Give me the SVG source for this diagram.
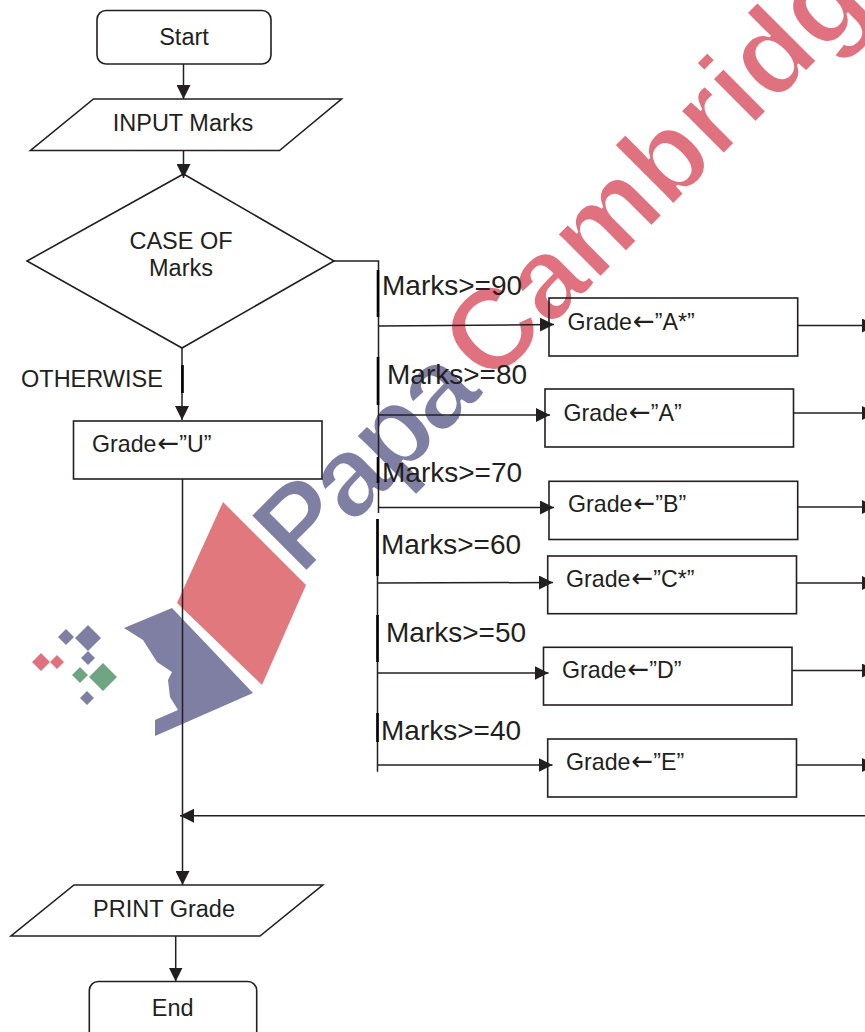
<svg xmlns="http://www.w3.org/2000/svg" width="865" height="1032" viewBox="0 0 865 1032">
<style>
.n{fill:#fff;stroke:#231f20;stroke-width:1.6}
.o{fill:none;stroke:#231f20;stroke-width:1.6}
.l{fill:none;stroke:#231f20;stroke-width:1.5}
.t{stroke:#000;stroke-width:2.6;fill:none}
text{font-family:"Liberation Sans",Arial,sans-serif;fill:#231f20;font-size:23.500px}
.g{font-size:23.200px}
.r{font-family:"DejaVu Sans",sans-serif;font-size:26px}
.m{font-size:28px}
.w{font-weight:bold;font-size:116px;fill:#e0727f;stroke:#fff;stroke-width:2.5px}
.v{font-weight:bold;font-size:115px;fill:#7f7ea3;letter-spacing:-5px;stroke:#fff;stroke-width:2.5px}
</style>
<defs>
<marker id="a" markerUnits="userSpaceOnUse" markerWidth="14" markerHeight="14" refX="14" refY="7" orient="auto"><path d="M0 0L14 7L0 14Z" fill="#231f20"/></marker>
</defs>
<rect width="865" height="1032" fill="#fff"/>
<g id="watermark">
<text class="v" transform="translate(301 577) rotate(-45)">Papa</text>
<text class="w" transform="translate(490 388) rotate(-45)">Cambridge</text>
<path d="M223 502L306 585L262 685L177 603Z" fill="#e0787d"/>
<path d="M124 628L172 608L253 693L155 736L155 720L178 710L170 697L168 680L172 672L157 662L143 640Z" fill="#7f7ea3"/>
<path d="M88 625L101 638L88 651L75 638Z M66 629L74 637L66 645L58 637Z M88 651L95 658L88 665L81 658Z M87 691L94 698L87 705L80 698Z" fill="#7f7ea3"/>
<path d="M41 653L50 662L41 671L32 662Z M57 655L64 662L57 669L50 662Z" fill="#e0727f"/>
<path d="M103 663L117 677L103 691L89 677Z M80 667L88 675L80 683L72 675Z" fill="#70a583"/>
</g>
<g id="connectors">
<path class="l" d="M183.500 64V99" marker-end="url(#a)"/>
<path class="l" d="M183.500 151V178" marker-end="url(#a)"/>
<path class="l" d="M182 348V420" marker-end="url(#a)"/>
<path class="t" d="M182.500 365V393"/>
<path class="l" d="M182.500 479V885" marker-end="url(#a)"/>
<path class="l" d="M334 261H378.500V513"/>
<path class="l" d="M377.500 519V771.700"/>
<path class="t" d="M378 270V317M378 357V405M378 457V483M377.500 519V576M377.500 615V662M377.500 713V742"/>
<path class="l" d="M379 326L554 324.500" marker-end="url(#a)"/>
<path class="l" d="M379 415H550" marker-end="url(#a)"/>
<path class="l" d="M379 507.500H554" marker-end="url(#a)"/>
<path class="l" d="M377.500 583L553 582.500" marker-end="url(#a)"/>
<path class="l" d="M377.500 673H548.500" marker-end="url(#a)"/>
<path class="l" d="M377.500 765H552.500" marker-end="url(#a)"/>
<path class="l" d="M798 325.500H876" marker-end="url(#a)"/>
<path class="l" d="M794 413H876" marker-end="url(#a)"/>
<path class="l" d="M798 507H876" marker-end="url(#a)"/>
<path class="l" d="M797 583H876" marker-end="url(#a)"/>
<path class="l" d="M792 670.500H876" marker-end="url(#a)"/>
<path class="l" d="M797 765H876" marker-end="url(#a)"/>
<path class="l" d="M865 815.700H180" marker-end="url(#a)"/>
<path class="l" d="M175.700 936V981.500" marker-end="url(#a)"/>
</g>
<g id="start"><rect class="n" x="97" y="10.500" width="174" height="53.500" rx="9"/><text x="184" y="45" text-anchor="middle">Start</text></g>
<g id="input"><path class="n" d="M93.500 99H341.500L279.500 150.500H30.500Z"/><text x="183" y="131" text-anchor="middle">INPUT Marks</text></g>
<g id="case"><path class="o" d="M183.500 174L334 261L182 348L27 261Z"/><text x="181" y="249" text-anchor="middle">CASE OF</text><text x="181" y="276" text-anchor="middle">Marks</text></g>
<text x="21" y="386.500">OTHERWISE</text>
<g id="gradeU"><rect class="n" x="73.500" y="421" width="248.500" height="58"/><text class="g" x="92" y="451.500">Grade<tspan class="r" dx="1">←</tspan>”U”</text></g>
<text class="m" x="382" y="295">Marks&gt;=90</text>
<text class="m" x="387" y="384">Marks&gt;=80</text>
<text class="m" x="382" y="482">Marks&gt;=70</text>
<text class="m" x="381" y="554">Marks&gt;=60</text>
<text class="m" x="386" y="642">Marks&gt;=50</text>
<text class="m" x="381" y="740">Marks&gt;=40</text>
<g id="gradeAs"><rect class="o" x="549" y="298" width="248.700" height="58"/><text class="g" x="567.500" y="330">Grade<tspan class="r" dx="1">←</tspan>”A*”</text></g>
<g id="gradeA"><rect class="o" x="545" y="389" width="248.500" height="58"/><text class="g" x="563.500" y="421">Grade<tspan class="r" dx="1">←</tspan>”A”</text></g>
<g id="gradeB"><rect class="o" x="549" y="481.300" width="248.700" height="58.200"/><text class="g" x="568" y="512">Grade<tspan class="r" dx="1">←</tspan>”B”</text></g>
<g id="gradeCs"><rect class="o" x="547.700" y="556" width="248.800" height="57.700"/><text class="g" x="566" y="587">Grade<tspan class="r" dx="1">←</tspan>”C*”</text></g>
<g id="gradeD"><rect class="o" x="543.500" y="647.300" width="248.500" height="57.700"/><text class="g" x="562" y="678">Grade<tspan class="r" dx="1">←</tspan>”D”</text></g>
<g id="gradeE"><rect class="o" x="547.700" y="739" width="248.800" height="58"/><text class="g" x="566" y="770">Grade<tspan class="r" dx="1">←</tspan>”E”</text></g>
<g id="print"><path class="n" d="M74 885H322.700L260 936H11Z"/><text x="164" y="916.500" text-anchor="middle">PRINT Grade</text></g>
<g id="end"><rect class="n" x="89.300" y="981.500" width="167.400" height="60" rx="9"/><text x="172.700" y="1016" text-anchor="middle">End</text></g>
</svg>
